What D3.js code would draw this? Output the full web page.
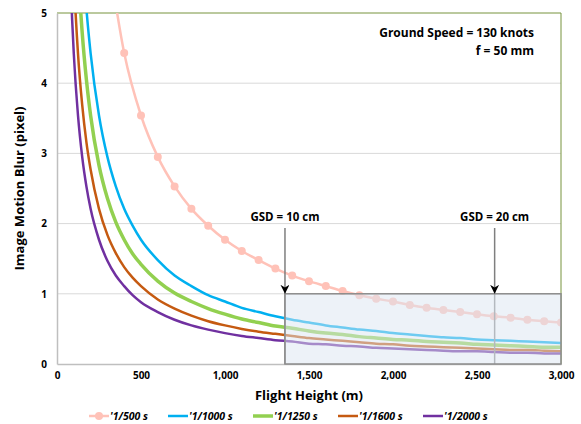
<!DOCTYPE html>
<html>
<head>
<meta charset="utf-8">
<script src="https://cdn.jsdelivr.net/npm/d3@7"></script>
<style>
  body { margin: 0; background: #fff; }
  text { font-family: "Open Sans", sans-serif; }
  .tick text { font-weight: 700; font-size: 10px; fill: #000; }
</style>
</head>
<body>
<div id="chart"></div>
<script>
// flight heights (m) for the smooth series
const heights = [50, 60, 70, 80, 90, 100, 125, 150, 175, 200, 250, 300, 350, 400, 450, 500,
  600, 700, 800, 900, 1000, 1100, 1200, 1300, 1400, 1500, 1600, 1700, 1800, 1900, 2000,
  2100, 2200, 2300, 2400, 2500, 2600, 2700, 2800, 2900, 3000];

// 1/500 s series has markers every 100 m
const heights500 = [300, 400, 500, 600, 700, 800, 900, 1000, 1100, 1200, 1300, 1400, 1500,
  1600, 1700, 1800, 1900, 2000, 2100, 2200, 2300, 2400, 2500, 2600, 2700, 2800, 2900, 3000];
const blur500 = [5.90, 4.43, 3.54, 2.95, 2.53, 2.21, 1.97, 1.77, 1.61, 1.48, 1.36, 1.26, 1.18,
  1.11, 1.04, 0.98, 0.93, 0.89, 0.84, 0.80, 0.77, 0.74, 0.71, 0.68, 0.66, 0.63, 0.61, 0.59];

const blur1000 = [17.7, 14.75, 12.64, 11.06, 9.83, 8.85, 7.08, 5.90, 5.06, 4.43, 3.54, 2.95, 2.53, 2.21, 1.97, 1.77,
  1.48, 1.26, 1.11, 0.98, 0.89, 0.80, 0.74, 0.68, 0.63, 0.59, 0.55, 0.52, 0.49, 0.47, 0.44,
  0.42, 0.40, 0.38, 0.37, 0.35, 0.34, 0.33, 0.32, 0.31, 0.30];
const blur1250 = [14.16, 11.8, 10.11, 8.85, 7.87, 7.08, 5.66, 4.72, 4.05, 3.54, 2.83, 2.36, 2.02, 1.77, 1.57, 1.42,
  1.18, 1.01, 0.89, 0.79, 0.71, 0.64, 0.59, 0.54, 0.51, 0.47, 0.44, 0.42, 0.39, 0.37, 0.35,
  0.34, 0.32, 0.31, 0.30, 0.28, 0.27, 0.26, 0.25, 0.24, 0.24];
const blur1600 = [11.06, 9.22, 7.9, 6.91, 6.14, 5.53, 4.42, 3.69, 3.16, 2.77, 2.21, 1.84, 1.58, 1.38, 1.23, 1.11,
  0.92, 0.79, 0.69, 0.61, 0.55, 0.50, 0.46, 0.43, 0.40, 0.37, 0.35, 0.33, 0.31, 0.29, 0.28,
  0.26, 0.25, 0.24, 0.23, 0.22, 0.21, 0.20, 0.20, 0.19, 0.18];
const blur2000 = [8.84, 7.37, 6.31, 5.53, 4.91, 4.42, 3.54, 2.95, 2.53, 2.21, 1.77, 1.47, 1.26, 1.11, 0.98, 0.88,
  0.74, 0.63, 0.55, 0.49, 0.44, 0.40, 0.37, 0.34, 0.32, 0.29, 0.28, 0.26, 0.25, 0.23, 0.22,
  0.21, 0.20, 0.19, 0.18, 0.18, 0.17, 0.16, 0.16, 0.15, 0.15];

const seriesNames = ["'1/500 s", "'1/1000 s", "'1/1250 s", "'1/1600 s", "'1/2000 s"];
const colors = ['#FFC2B8', '#00B0F0', '#92D050', '#C55A11', '#7030A0'];
const widths = [2.5, 2.5, 3.5, 2.5, 2.5];

const xTicks = [0, 500, 1000, 1500, 2000, 2500, 3000];
const yTicks = [0, 1, 2, 3, 4, 5];

// GSD markers and shaded region
const gsdLabels = ['GSD = 10 cm', 'GSD = 20 cm'];
const gsdHeights = [1357, 2605];
const boxRange = { x0: 1357, x1: 3000, y0: 0, y1: 1 };
const notes = ['Ground Speed = 130 knots', 'f = 50 mm'];

const W = 581, H = 424;
const margin = { top: 13, right: 20, bottom: 60, left: 57 };
const iw = W - margin.left - margin.right;
const ih = H - margin.top - margin.bottom;

const svg = d3.select('#chart').append('svg')
  .attr('width', W).attr('height', H);

const g = svg.append('g')
  .attr('transform', `translate(${margin.left},${margin.top})`);

const x = d3.scaleLinear().domain([0, 3000]).range([0, iw]);
const y = d3.scaleLinear().domain([0, 5]).range([ih, 0]);

svg.append('defs').append('clipPath').attr('id', 'clip')
  .append('rect').attr('width', iw).attr('height', ih);
svg.select('defs').append('marker')
  .attr('id', 'arrow').attr('viewBox', '0 0 10 10')
  .attr('refX', 10).attr('refY', 5)
  .attr('markerWidth', 6).attr('markerHeight', 6)
  .attr('orient', 'auto')
  .append('path').attr('d', 'M0,0 L10,5 L0,10 L3,5 Z').attr('fill', '#000');

// gridlines
g.append('g')
  .selectAll('line')
  .data(yTicks.filter(d => d > 0 && d < 5))
  .enter().append('line')
  .attr('x1', 0).attr('x2', iw)
  .attr('y1', d => y(d)).attr('y2', d => y(d))
  .attr('stroke', '#D9D9D9').attr('stroke-width', 1);

// plot-area border top + right
g.append('path')
  .attr('d', `M0,${y(5)}H${iw}V${ih}`)
  .attr('fill', 'none').attr('stroke', '#77933C').attr('stroke-width', 1);

// axes
const xAxis = d3.axisBottom(x).tickValues(xTicks).tickSize(0).tickPadding(8)
  .tickFormat(d3.format(','));
const yAxis = d3.axisLeft(y).tickValues(yTicks).tickSize(0).tickPadding(10)
  .tickFormat(d3.format('d'));

g.append('g').attr('transform', `translate(0,${ih})`).call(xAxis)
  .call(s => s.select('.domain').attr('stroke', '#BFBFBF').attr('stroke-width', 1.5));
g.append('g').call(yAxis)
  .call(s => s.select('.domain').attr('stroke', '#BFBFBF').attr('stroke-width', 1.5));

const line = d3.line()
  .x(d => x(d[0]))
  .y(d => y(d[1]))
  .curve(d3.curveMonotoneX);

const plot = g.append('g').attr('clip-path', 'url(#clip)');

const smooth = [blur1000, blur1250, blur1600, blur2000];
smooth.forEach((vals, k) => {
  const idx = k + 1;
  plot.append('path')
    .datum(heights.map((h, i) => [h, vals[i]]))
    .attr('d', line)
    .attr('fill', 'none')
    .attr('stroke', colors[idx])
    .attr('stroke-width', widths[idx]);
});

const pts500 = heights500.map((h, i) => [h, blur500[i]]);
plot.append('path')
  .datum(pts500)
  .attr('d', line)
  .attr('fill', 'none')
  .attr('stroke', colors[0])
  .attr('stroke-width', widths[0]);
plot.selectAll('.dot')
  .data(pts500)
  .enter().append('circle')
  .attr('class', 'dot')
  .attr('cx', d => x(d[0])).attr('cy', d => y(d[1]))
  .attr('r', 4)
  .attr('fill', colors[0]);

// GSD vertical lines (below overlay inside the box)
gsdHeights.forEach(h => {
  g.append('line')
    .attr('x1', x(h)).attr('x2', x(h))
    .attr('y1', y(boxRange.y1)).attr('y2', ih)
    .attr('stroke', '#8C8C8C').attr('stroke-width', 1.5);
});

// shaded box
g.append('rect')
  .attr('x', x(boxRange.x0)).attr('y', y(boxRange.y1))
  .attr('width', x(boxRange.x1) - x(boxRange.x0))
  .attr('height', y(boxRange.y0) - y(boxRange.y1))
  .attr('fill', '#DCE6F2').attr('fill-opacity', 0.5)
  .attr('stroke', '#8C8C8C').attr('stroke-width', 1.5);

// arrows + labels
gsdHeights.forEach((h, i) => {
  g.append('line')
    .attr('x1', x(h)).attr('x2', x(h))
    .attr('y1', 215).attr('y2', y(boxRange.y1))
    .attr('stroke', '#7F7F7F').attr('stroke-width', 1.5)
    .attr('marker-end', 'url(#arrow)');
  g.append('text')
    .attr('x', x(h)).attr('y', 208)
    .attr('text-anchor', 'middle')
    .attr('font-size', 11.5).attr('font-weight', 700)
    .attr('font-family', 'Lato, sans-serif')
    .text(gsdLabels[i]);
});

// notes top-right
notes.forEach((t, i) => {
  g.append('text')
    .attr('x', 477).attr('y', 24 + i * 18)
    .attr('text-anchor', 'end')
    .attr('font-size', 12).attr('font-weight', 700)
    .attr('font-family', 'Lato, sans-serif')
    .text(t);
});

// axis titles
svg.append('text')
  .attr('x', margin.left + iw / 2).attr('y', 400)
  .attr('text-anchor', 'middle')
  .attr('font-size', 13).attr('font-weight', 700)
  .text('Flight Height (m)');
svg.append('text')
  .attr('transform', `translate(24,${margin.top + ih / 2}) rotate(-90)`)
  .attr('text-anchor', 'middle')
  .attr('font-size', 13).attr('font-weight', 700)
  .text('Image Motion Blur (pixel)');

// legend
const legendX = [89, 168, 253, 338, 423];
const legend = svg.append('g').attr('transform', 'translate(0,416)');
seriesNames.forEach((name, i) => {
  const lg = legend.append('g').attr('transform', `translate(${legendX[i]},0)`);
  lg.append('line')
    .attr('x1', 0).attr('x2', 20)
    .attr('stroke', colors[i]).attr('stroke-width', widths[i]);
  if (i === 0) {
    lg.append('circle').attr('cx', 10).attr('r', 4).attr('fill', colors[0]);
  }
  lg.append('text')
    .attr('x', 21).attr('y', 4)
    .attr('font-size', 10.5).attr('font-weight', 700).attr('font-style', 'italic')
    .text(name);
});
</script>
</body>
</html>
